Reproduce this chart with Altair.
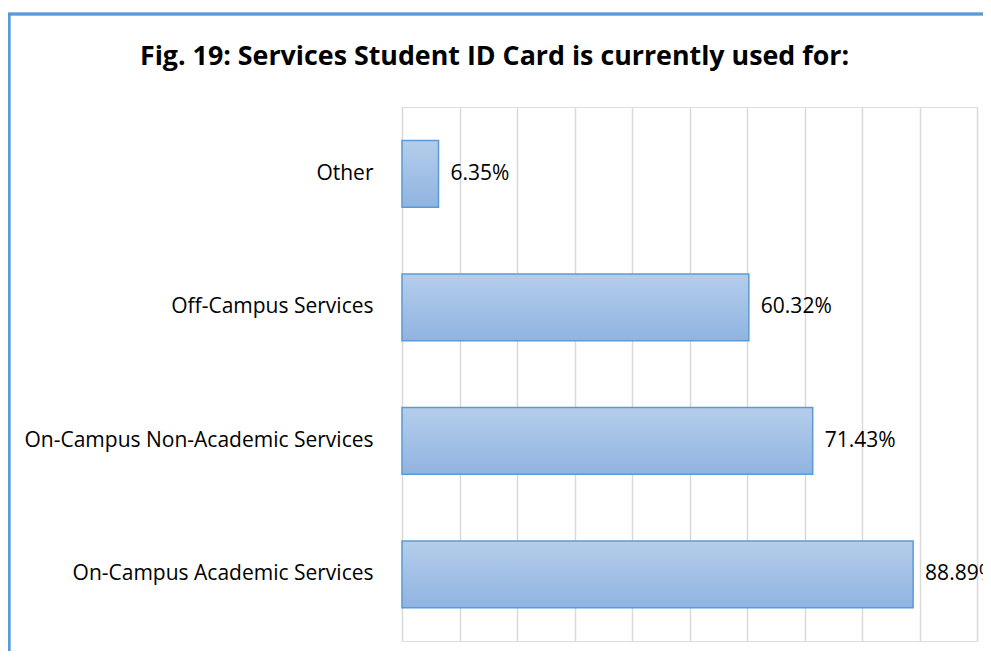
import altair as alt
import pandas as pd

categories = ["Other", "Off-Campus Services", "On-Campus Non-Academic Services", "On-Campus Academic Services"]
values = [6.35, 60.32, 71.43, 88.89]
labels = ["6.35%", "60.32%", "71.43%", "88.89%"]

df = pd.DataFrame({"category": categories, "value": values, "label": labels})

FONT = "Open Sans"
TFONT = "Open Sans"

y_enc = alt.Y("category:N", sort=categories, title=None,
              scale=alt.Scale(paddingInner=0.5, paddingOuter=0.25),
              axis=alt.Axis(domain=False, ticks=False, labelPadding=29,
                            labelFont=FONT, labelFontSize=21, labelColor="#000000",
                            labelLimit=500))
x_enc = alt.X("value:Q", title=None,
              scale=alt.Scale(domain=[0, 100], nice=False),
              axis=alt.Axis(labels=False, ticks=False, domain=False, grid=True,
                            values=list(range(0, 101, 10)),
                            gridColor="#d9d9d9", gridWidth=1.5))

grad = alt.Gradient(gradient="linear",
                    stops=[alt.GradientStop(color="#b5cdeb", offset=0),
                           alt.GradientStop(color="#90b4e1", offset=1)],
                    x1=0, x2=0, y1=0, y2=1)

bars = alt.Chart(df).mark_bar(color=grad, stroke="#5b9bd5", strokeWidth=1.5).encode(
    x=x_enc, y=y_enc)

text = alt.Chart(df).mark_text(align="left", dx=12, font=FONT, fontSize=21, color="#000000").encode(
    x="value:Q", y=alt.Y("category:N", sort=categories), text="label:N")

frame = alt.Chart(df).mark_rect(fill=None, stroke="#5b9bd5", strokeWidth=2.5, clip=False).encode(
    x=alt.value(-393), x2=alt.value(700), y=alt.value(-93), y2=alt.value(700))

chart = alt.layer(frame, bars, text).properties(
    width=575, height=534,
    title=alt.TitleParams("Fig. 19: Services Student ID Card is currently used for:",
                          font=TFONT, fontSize=26.8, fontWeight="bold", color="#000000",
                          anchor="middle", frame="group", dx=-195, offset=-58),
    autosize=alt.AutoSizeParams(type="none"),
    padding={"left": 394, "top": 99, "right": 6, "bottom": 10},
).configure_view(stroke=None).configure(background="white")

chart.save("out.html", embed_options={"renderer": "svg", "actions": False})
